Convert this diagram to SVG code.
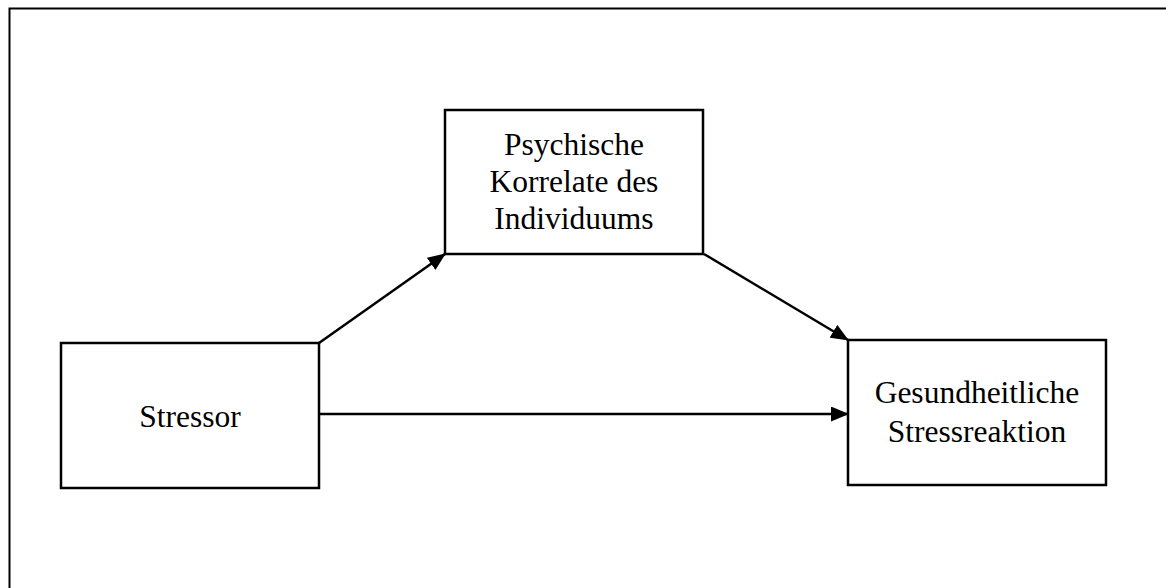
<svg xmlns="http://www.w3.org/2000/svg" width="1166" height="588" viewBox="0 0 1166 588">
  <style>
    .box { fill: #ffffff; stroke: #000000; stroke-width: 2.5; }
    .label { font-family: "Liberation Serif", "Times New Roman", serif; font-size: 31.5px; fill: #000000; text-anchor: middle; }
    .edge { fill: none; stroke: #000000; stroke-width: 2.5; marker-end: url(#arrow); }
  </style>
  <defs>
    <marker id="arrow" markerUnits="userSpaceOnUse" markerWidth="18" markerHeight="15" refX="17" refY="7.5" orient="auto">
      <path d="M0,0 L18,7.5 L0,15 Z" fill="#000000"/>
    </marker>
  </defs>

  <rect x="0" y="0" width="1166" height="588" fill="#ffffff"/>
  <!-- outer frame, open to the right and bottom -->
  <path d="M9.5,588 L9.5,8.5 L1166,8.5" fill="none" stroke="#000000" stroke-width="2"/>

  <g id="connectors">
    <line class="edge" x1="319" y1="343" x2="445" y2="254"/>
    <line class="edge" x1="704" y1="254" x2="848" y2="340"/>
    <line class="edge" x1="319" y1="414" x2="848" y2="414"/>
  </g>

  <g id="node-stressor">
    <rect class="box" x="61" y="343" width="258" height="145"/>
    <text class="label" x="190" y="427">Stressor</text>
  </g>

  <g id="node-korrelate">
    <rect class="box" x="445" y="110" width="258" height="144"/>
    <text class="label" x="574" y="155">Psychische</text>
    <text class="label" x="574" y="192">Korrelate des</text>
    <text class="label" x="574" y="229">Individuums</text>
  </g>

  <g id="node-reaktion">
    <rect class="box" x="848" y="340" width="258" height="145"/>
    <text class="label" x="977" y="403">Gesundheitliche</text>
    <text class="label" x="977" y="442">Stressreaktion</text>
  </g>
</svg>
